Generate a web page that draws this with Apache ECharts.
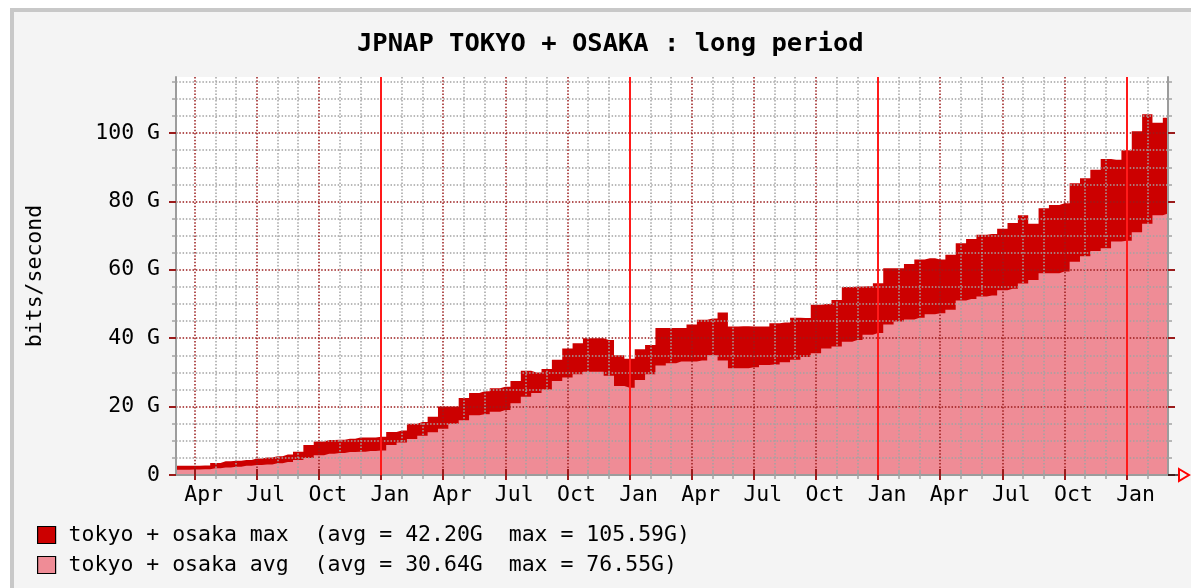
<!DOCTYPE html>
<html><head><meta charset="utf-8">
<script src="https://cdn.jsdelivr.net/npm/echarts@6/dist/echarts.min.js"></script>
<style>html,body{margin:0;padding:0;background:#fff}#c{width:1191px;height:588px}</style>
</head><body><div id="c"></div>
<script>
// ---------- data ----------
const titleText = 'JPNAP TOKYO + OSAKA : long period';
const yAxisTitle = 'bits/second';
// x position in months, counted from January of the first year (12 = next January)
const monthPos = [2,2.5,3,3.5,4,4.5,5,5.5,6,6.5,7,7.5,8,8.5,9,9.5,10,10.5,11,11.5,
  12,12.5,13,13.5,14,14.5,15,15.5,16,16.5,17,17.5,18,18.5,19,19.5,20,20.5,21,21.5,
  22,22.5,23,23.5,24,24.5,25,25.5,26,26.5,27,27.5,28,28.5,29,29.5,30,30.5,31,31.5,
  32,32.5,33,33.5,34,34.5,35,35.5,36,36.5,37,37.5,38,38.5,39,39.5,40,40.5,41,41.5,
  42,42.5,43,43.5,44,44.5,45,45.5,46,46.5,47,47.5,48,48.5,49,49.5,50];
// Gbit/s
const maxValues = [2.7,2.7,2.7,2.8,3.5,4.0,4.2,4.4,4.8,5.1,
  5.5,6.0,6.8,8.8,9.8,10.2,10.3,10.6,11.0,11.0,
  11.2,12.6,13.0,15.0,15.5,17.0,20.0,20.0,22.5,24.0,
  24.5,25.4,25.8,27.5,30.5,30.0,31.0,33.7,37.0,38.5,
  40.0,40.0,39.5,35.0,34.0,36.8,38.0,43.0,43.0,43.0,
  44.0,45.4,45.8,47.5,43.4,43.5,43.4,43.4,44.4,44.6,
  46.0,45.9,49.8,50.0,51.2,55.0,55.1,55.2,56.1,60.5,
  60.5,61.7,63.0,63.4,63.0,64.4,67.8,69.0,70.3,70.5,
  72.0,73.7,76.0,73.5,78.0,79.0,79.5,85.3,86.8,89.3,
  92.4,92.2,95.0,100.5,105.5,103.0,104.5];
const avgValues = [1.5,1.5,1.6,1.7,2.0,2.2,2.4,2.7,2.9,3.1,
  3.4,3.8,4.4,5.0,5.8,6.2,6.4,6.7,6.8,7.0,
  7.2,8.8,9.5,10.5,11.5,12.5,13.5,15.0,16.0,17.5,
  17.8,18.5,19.0,21.0,22.9,24.0,25.0,27.5,28.5,29.5,
  30.2,30.2,29.0,26.0,25.5,27.8,29.5,32.0,32.7,33.2,
  33.2,33.5,35.0,33.5,31.2,31.2,31.5,32.2,32.3,33.0,
  33.7,34.5,35.6,37.0,37.6,39.0,39.5,41.0,41.5,44.0,
  44.9,45.5,46.0,47.0,47.3,48.3,51.0,51.5,52.2,52.5,
  54.0,54.5,56.0,57.0,59.0,59.0,59.5,62.4,64.0,65.5,
  66.3,68.3,68.5,71.0,73.5,76.0,76.5];
const seriesNames = ['tokyo + osaka max', 'tokyo + osaka avg'];
const seriesStats = ['(avg = 42.20G  max = 105.59G)', '(avg = 30.64G  max = 76.55G)'];
const monthTicks = [4,5,7,8,10,11,13,14,16,17,19,20,22,23,25,26,28,29,31,32,34,35,37,38,40,41,43,44,46,47,49];
const quarterTicks = [3,6,9,12,15,18,21,24,27,30,33,36,39,42,45,48];
const quarterLabels = ['Apr','Jul','Oct','Jan','Apr','Jul','Oct','Jan','Apr','Jul','Oct','Jan','Apr','Jul','Oct','Jan'];
const yearTicks = [12,24,36,48];
const yMinorTicks = [5,10,15,25,30,35,45,50,55,65,70,75,85,90,95,105,110,115];
const yMajorTicks = [0,20,40,60,80,100];
const yMajorLabels = ['0','20 G','40 G','60 G','80 G','100 G'];
const xMin = 2.1, xMax = 50, yMin = 0, yMax = 116.4;

// ---------- style / layout ----------
const FONT = 'DejaVu Sans Mono';
const plot = {left: 176, top: 77, width: 992, height: 398};
const C_MAXAREA = '#cc0000', C_AVGAREA = '#ef8c96';
const C_MINOR = '#a3a3a3', C_MAJOR = '#9a1b1b', C_YEAR = '#ff1a1a', C_FRAME = '#9c9c9c';
const dotted = [1.5, 1.8];

function grid(i, extra) { return Object.assign({id: 'g' + i, left: plot.left, top: plot.top, width: plot.width, height: plot.height, containLabel: false}, extra || {}); }
function xa(gi, extra) {
  return Object.assign({type: 'value', gridIndex: gi, min: xMin, max: xMax, z: 3,
    axisLine: {show: false}, axisLabel: {show: false}, axisTick: {show: false}, splitLine: {show: false}}, extra);
}
function ya(gi, extra) {
  return Object.assign({type: 'value', gridIndex: gi, min: yMin, max: yMax, z: 3,
    axisLine: {show: false}, axisLabel: {show: false}, axisTick: {show: false}, splitLine: {show: false}}, extra);
}

const chart = echarts.init(document.getElementById('c'), null, {renderer: 'canvas'});
const plotRight = plot.left + plot.width, plotBottom = plot.top + plot.height;

chart.setOption({
  animation: false,
  backgroundColor: '#ffffff',
  graphic: [
    {type: 'rect', z: -10, silent: true, shape: {x: 12, y: 10, width: 1300, height: 700},
     style: {fill: '#f4f4f4', stroke: '#c8c8c8', lineWidth: 4}},
    {type: 'line', z: 10, silent: true, shape: {x1: plotRight, y1: plotBottom, x2: plotRight + 11, y2: plotBottom},
     style: {stroke: '#222', lineWidth: 1.5}},
    {type: 'polygon', z: 10, silent: true, shape: {points: [[plotRight + 11, plotBottom - 6], [plotRight + 21, plotBottom], [plotRight + 11, plotBottom + 6]]},
     style: {fill: 'none', stroke: '#ff0000', lineWidth: 2}}
  ],
  title: {
    text: titleText, left: 352, top: 26,
    textStyle: {fontFamily: FONT, fontSize: 25.5, fontWeight: 'bold', color: '#000'}
  },
  legend: {
    orient: 'vertical', left: 37, top: 524, height: 90, padding: 0,
    itemWidth: 18, itemHeight: 17, itemGap: 8,
    icon: 'rect', data: seriesNames,
    formatter: function (name) { return name + '  ' + seriesStats[seriesNames.indexOf(name)]; },
    itemStyle: {borderColor: '#000', borderWidth: 1.2},
    textStyle: {fontFamily: FONT, fontSize: 21.5, lineHeight: 21, color: '#000', padding: [0, 0, 0, 8]}
  },
  grid: [grid(0, {show: true, backgroundColor: '#ffffff', borderWidth: 0}), grid(1), grid(2), grid(3), grid(4)],
  xAxis: [
    xa(0, {position: 'bottom',
      axisTick: {show: true, customValues: monthTicks, length: 4, lineStyle: {color: C_MINOR, width: 1.5}},
      splitLine: {show: true, lineStyle: {color: C_MINOR, width: 1.5, type: dotted}}}),
    xa(1, {position: 'bottom',
      axisTick: {show: true, customValues: quarterTicks, length: 5, lineStyle: {color: C_MAJOR, width: 2}},
      axisLabel: {show: true, customValues: quarterTicks, margin: 9, padding: [0, 0, 0, 18],
        fontFamily: FONT, fontSize: 21.5, color: '#000',
        formatter: function (v) { const i = quarterTicks.indexOf(v); return i >= 0 ? quarterLabels[i] : ''; }},
      splitLine: {show: true, lineStyle: {color: C_MAJOR, width: 1.5, type: dotted}}}),
    xa(2, {position: 'top',
      axisLine: {show: true, lineStyle: {color: C_FRAME, width: 2}},
      axisTick: {show: true, customValues: monthTicks, length: 4, lineStyle: {color: C_MINOR, width: 1.5}}}),
    xa(3, {position: 'top',
      axisTick: {show: true, customValues: quarterTicks, length: 6, lineStyle: {color: C_MAJOR, width: 2}}}),
    xa(4, {position: 'bottom', z: 4,
      axisTick: {show: false, customValues: yearTicks},
      splitLine: {show: true, lineStyle: {color: C_YEAR, width: 2, type: 'solid'}}})
  ],
  yAxis: [
    ya(0, {position: 'left',
      axisLine: {show: true, lineStyle: {color: C_FRAME, width: 2}},
      axisTick: {show: true, customValues: yMinorTicks, length: 4, lineStyle: {color: C_MINOR, width: 1.5}},
      splitLine: {show: true, lineStyle: {color: C_MINOR, width: 1.5, type: dotted}}}),
    ya(1, {position: 'left',
      name: yAxisTitle, nameLocation: 'middle', nameGap: 130, nameRotate: 90,
      nameTextStyle: {fontFamily: FONT, fontSize: 21.5, color: '#000'},
      axisTick: {show: true, customValues: yMajorTicks, length: 7, lineStyle: {color: C_MAJOR, width: 2}},
      axisLabel: {show: true, customValues: yMajorTicks, margin: 16, fontFamily: FONT, fontSize: 21.5, color: '#000',
        formatter: function (v) { const i = yMajorTicks.indexOf(v); return i >= 0 ? yMajorLabels[i] : ''; }},
      splitLine: {show: true, lineStyle: {color: C_MAJOR, width: 1.5, type: dotted}}}),
    ya(2, {position: 'right',
      axisLine: {show: true, lineStyle: {color: C_FRAME, width: 2}},
      axisTick: {show: true, customValues: yMinorTicks, length: 4, lineStyle: {color: C_MINOR, width: 1.5}}}),
    ya(3, {position: 'right',
      axisTick: {show: true, customValues: yMajorTicks, length: 7, lineStyle: {color: C_MAJOR, width: 2}}}),
    ya(4, {position: 'left'})
  ],
  series: [
    {type: 'line', name: seriesNames[0], xAxisIndex: 0, yAxisIndex: 0, z: 1,
     data: monthPos.map(function (m, i) { return [m, maxValues[i]]; }),
     step: 'middle', symbol: 'none', showSymbol: false,
     lineStyle: {width: 0, color: C_MAXAREA}, itemStyle: {color: C_MAXAREA},
     areaStyle: {color: C_MAXAREA, opacity: 1}},
    {type: 'line', name: seriesNames[1], xAxisIndex: 0, yAxisIndex: 0, z: 2,
     data: monthPos.map(function (m, i) { return [m, avgValues[i]]; }),
     step: 'middle', symbol: 'none', showSymbol: false,
     lineStyle: {width: 0, color: C_AVGAREA}, itemStyle: {color: C_AVGAREA},
     areaStyle: {color: C_AVGAREA, opacity: 1}}
  ]
});
</script></body></html>
